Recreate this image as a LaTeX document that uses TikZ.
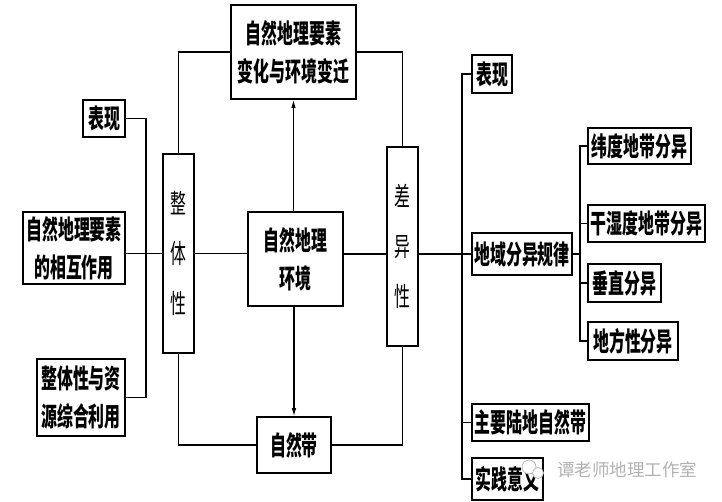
\documentclass[tikz,border=0pt]{standalone}
\usepackage{fontspec}
\usetikzlibrary{arrows.meta}
\newfontfamily\cjk[FakeStretch=0.6]{Noto Sans CJK SC}
\newfontfamily\wmf{Noto Sans CJK SC}
\tikzset{
  bx/.style={draw, line width=1.6pt, inner sep=0pt, align=center,
    font=\cjk\bfseries\fontsize{26.5}{38}\selectfont},
  vbx/.style={draw, line width=1.6pt, inner sep=0pt, align=center,
    font=\cjk\fontsize{26.5}{50}\selectfont},
  conn/.style={line width=1.6pt},
  arr/.style={line width=1.1pt, -{Latex[length=8pt,width=4.5pt]}}
}
\begin{document}
\begin{tikzpicture}[x=1pt,y=-1pt]
\useasboundingbox (0,0) rectangle (722,502);
% central column
\node[bx, minimum width=125pt, minimum height=94pt] (top) at (293.5,52) {自然地理要素\\变化与环境变迁};
\node[bx, minimum width=95pt, minimum height=94pt] (env) at (295.5,259) {自然地理\\环境};
\node[bx, minimum width=74pt, minimum height=56pt] (zrd) at (294,445) {自然带};
\node[vbx, minimum width=31pt, minimum height=199pt] (zt) at (178.5,253.5) {整\\体\\性};
\node[vbx, minimum width=31pt, minimum height=199pt] (cy) at (402.5,246.5) {差\\异\\性};
% left column
\node[bx, minimum width=42pt, minimum height=37pt] (L1) at (104,118.5) {表现};
\node[bx, minimum width=102pt, minimum height=72pt] (L2) at (74,248) {自然地理要素\\的相互作用};
\node[bx, minimum width=88pt, minimum height=77pt] (L3) at (81,397.5) {整体性与资\\源综合利用};
% right column
\node[bx, minimum width=40pt, minimum height=38pt] (R1) at (492,74) {表现};
\node[bx, minimum width=100pt, minimum height=42pt] (R2) at (522,254) {地域分异规律};
\node[bx, minimum width=117pt, minimum height=37pt] (R3) at (530.5,422.5) {主要陆地自然带};
\node[bx, minimum width=71pt, minimum height=42pt] (R4) at (507.5,479) {实践意义};
% sub column
\node[bx, minimum width=103pt, minimum height=36pt] (S1) at (639.5,146) {纬度地带分异};
\node[bx, minimum width=117pt, minimum height=37pt] (S2) at (646.5,223.5) {干湿度地带分异};
\node[bx, minimum width=73pt, minimum height=38pt] (S3) at (624.5,283) {垂直分异};
\node[bx, minimum width=90pt, minimum height=38pt] (S4) at (633,341) {地方性分异};
% spines
\coordinate (lsp) at (146,0);
\coordinate (rsp) at (462,0);
\coordinate (ssp) at (580,0);
% connectors
\draw[conn] (top.west) -| (zt.north);
\draw[conn] (top.east) -| (cy.north);
\draw[arr] (env.north -| top.south) -- (top.south);
\draw[arr] (env.south -| zrd.north) -- (zrd.north);
\draw[conn] (zt.south) |- (zrd.west);
\draw[conn] (zrd.east) -| (cy.south);
\draw[conn] (L1.east) -| (lsp |- L3.east) -- (L3.east);
\draw[conn] (zt.west) -- (zt.west -| L2.east);
\draw[conn] (zt.east) -- (zt.east -| env.west);
\draw[conn] (env.east |- R2.west) -- (cy.west |- R2.west);
\draw[conn] (cy.east |- R2.west) -- (R2.west);
\draw[conn] (R1.west) -| (rsp |- R4.west) -- (R4.west);
\draw[conn] (rsp |- R3.west) -- (R3.west);
\draw[conn] (R2.east) -- (ssp |- R2.east);
\draw[conn] (S1.west) -| (ssp |- S4.west) -- (S4.west);
\draw[conn] (ssp |- S2.west) -- (S2.west);
\draw[conn] (ssp |- S3.west) -- (S3.west);
% watermark
\draw[gray!55, fill=white, line width=0.8pt] (529,467) circle (7pt);
\draw[gray!55, fill=white, line width=0.8pt] (538,473) circle (5.5pt);
\node[text=gray!60, font=\wmf\fontsize{17.5}{18}\selectfont, inner sep=0pt] (wm) at (627,470) {谭老师地理工作室};
\end{tikzpicture}
\end{document}
